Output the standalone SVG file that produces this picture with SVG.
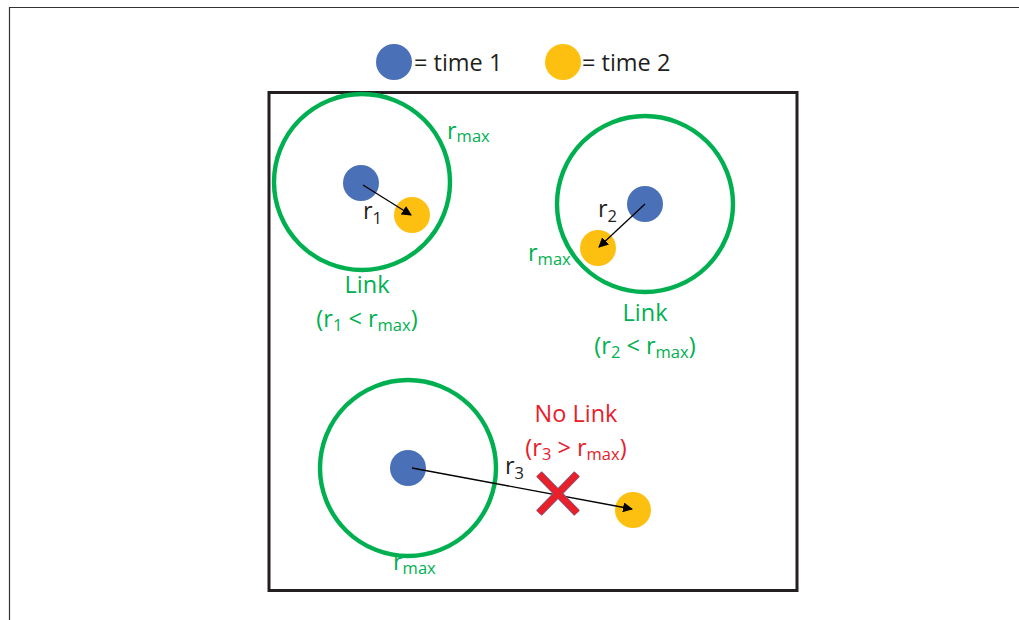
<svg xmlns="http://www.w3.org/2000/svg" width="1019" height="620" viewBox="0 0 1019 620">
  <defs>
    <style>
      .t { font-family: "Open Sans", "Noto Sans", sans-serif; font-size: 23.5px; }
      .sub { font-size: 16.5px; }
      .green { fill: #00b050; }
      .red { fill: #e8202a; }
      .black { fill: #231f20; }
      .range { fill: none; stroke: #00b050; stroke-width: 4.4; }
      .t1 { fill: #4a70b7; }
      .t2 { fill: #fdc010; }
      .link { stroke: #000; stroke-width: 1.3; fill: none; marker-end: url(#head); }
    </style>
    <marker id="head" viewBox="0 0 10 10" refX="9" refY="5" markerWidth="10" markerHeight="10" markerUnits="userSpaceOnUse" orient="auto">
      <path d="M0,0 L10,5 L0,10 z" fill="#000"/>
    </marker>
  </defs>

  <rect width="1019" height="620" fill="#fff"/>
  <!-- outer page frame -->
  <path d="M9.5,625 V7.5 H1025" fill="none" stroke="#333" stroke-width="1.2"/>

  <!-- legend -->
  <g id="legend">
    <circle class="t1" cx="394" cy="62" r="18"/>
    <text class="t black" x="414" y="71">= time 1</text>
    <circle class="t2" cx="563" cy="62" r="18"/>
    <text class="t black" x="582" y="71">= time 2</text>
  </g>

  <!-- study area -->
  <rect id="area" x="269" y="92.5" width="528" height="498" fill="none" stroke="#231f20" stroke-width="3"/>

  <!-- case 1 -->
  <g id="case1">
    <circle class="range" cx="362" cy="182" r="88"/>
    <circle class="t1" cx="361" cy="183" r="18"/>
    <circle class="t2" cx="412" cy="215" r="18"/>
    <text class="t green" x="447" y="139">r<tspan class="sub" dy="3">max</tspan></text>
    <text class="t black" x="363" y="219">r<tspan class="sub" dy="5">1</tspan></text>
    <text class="t green" x="367" y="293" text-anchor="middle">Link</text>
    <text class="t green" x="367" y="327" text-anchor="middle">(r<tspan class="sub" dy="4">1</tspan><tspan dy="-4"> &lt; r</tspan><tspan class="sub" dy="4">max</tspan><tspan dy="-4">)</tspan></text>
  </g>

  <!-- case 2 -->
  <g id="case2">
    <circle class="range" cx="645" cy="204" r="88"/>
    <circle class="t1" cx="645" cy="204" r="18"/>
    <circle class="t2" cx="598" cy="248" r="18"/>
    <text class="t black" x="598" y="217">r<tspan class="sub" dy="5">2</tspan></text>
    <text class="t green" x="528" y="261">r<tspan class="sub" dy="4">max</tspan></text>
    <text class="t green" x="645" y="321" text-anchor="middle">Link</text>
    <text class="t green" x="645" y="354" text-anchor="middle">(r<tspan class="sub" dy="4">2</tspan><tspan dy="-4"> &lt; r</tspan><tspan class="sub" dy="4">max</tspan><tspan dy="-4">)</tspan></text>
  </g>

  <!-- case 3 -->
  <g id="case3">
    <circle class="range" cx="408" cy="468" r="88"/>
    <circle class="t1" cx="408" cy="468" r="18"/>
    <circle class="t2" cx="633" cy="510" r="18"/>
    <text class="t black" x="505" y="474">r<tspan class="sub" dy="5">3</tspan></text>
    <text class="t green" x="393" y="570">r<tspan class="sub" dy="4">max</tspan></text>
    <text class="t red" x="576" y="422" text-anchor="middle">No Link</text>
    <text class="t red" x="576" y="456" text-anchor="middle">(r<tspan class="sub" dy="4">3</tspan><tspan dy="-4"> &gt; r</tspan><tspan class="sub" dy="4">max</tspan><tspan dy="-4">)</tspan></text>
  </g>

  <!-- displacement connectors -->
  <g id="connectors">
    <line class="link" x1="363" y1="185" x2="411" y2="215"/>
    <line class="link" x1="645" y1="204" x2="599" y2="247"/>
    <line class="link" x1="412" y1="468" x2="632" y2="509"/>
  </g>

  <!-- rejection mark -->
  <g id="cross" stroke-linecap="butt">
    <path d="M539,474 L577,513 M577,474 L539,513" stroke="#6a6a9a" stroke-width="8"/>
    <path d="M539,474 L577,513 M577,474 L539,513" stroke="#e8202a" stroke-width="6.6"/>
  </g>
</svg>
